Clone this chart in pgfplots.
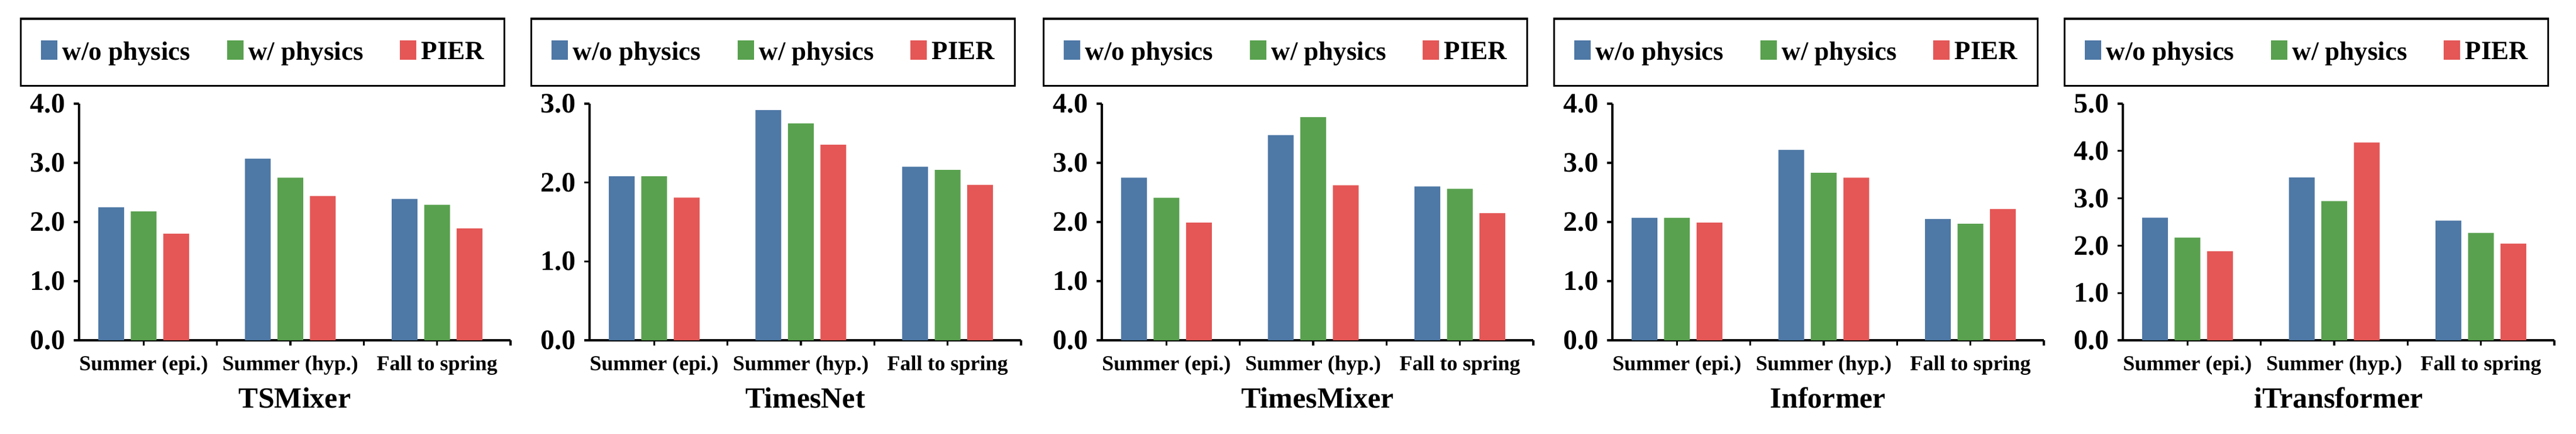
\documentclass[border=0pt]{standalone}
\usepackage{fontspec}
\setmainfont{Liberation Serif}
\usepackage{pgfplots}
\pgfplotsset{compat=1.18}
\definecolor{cBlue}{HTML}{4E78A6}
\definecolor{cGreen}{HTML}{59A14F}
\definecolor{cRed}{HTML}{E45756}
\pgfplotsset{
  sqlegend/.style={legend image code/.code={\fill[##1] (0pt,-3.1pt) rectangle (7pt,5.15pt);}},
  panel/.style={
    scale only axis, width=184.25pt, height=101pt,
    anchor=south west,
    xmin=-0.44, xmax=2.5, ymin=0,
    ybar, bar width=11pt, ybar=2.875pt,
    axis x line=bottom, axis y line=left,
    axis line style={-, line width=1pt, black},
    tick align=outside, major tick length=2.25pt,
    tick style={line width=0.8pt, black},
    xtick={0,1,2},
    xticklabels={Summer (epi.), Summer (hyp.), Fall to spring},
    extra x ticks={0.5,1.5,2.5}, extra x tick labels={},
    ytick distance=1,
    /pgf/number format/assume math mode=true,
    yticklabel style={font=\fontsize{12}{13}\selectfont\bfseries, /pgf/number format/.cd, fixed, fixed zerofill, precision=1},
    xticklabel style={font=\fontsize{9}{10}\selectfont\bfseries, anchor=base, yshift=-10.5pt},
    xlabel style={font=\fontsize{12.5}{14}\selectfont\bfseries, at={(axis description cs:0.5,-0.287)}, anchor=base},
    legend columns=3,
    legend style={at={(axis description cs:0.4254,1.2178)}, anchor=center,
      draw=black, line width=0.85pt, font=\fontsize{11.25}{13}\selectfont\bfseries,
      inner xsep=8.5pt, inner ysep=9.4pt,
      nodes={inner sep=0pt},
      /tikz/every odd column/.append style={column sep=2.25pt},
      /tikz/every even column/.append style={column sep=15.5pt}},
  }
}
\begin{document}
\begin{tikzpicture}
\useasboundingbox (0,0) rectangle (1100pt,185pt);
% TSMixer
\begin{axis}[panel, at={(33.75pt,39.75pt)}, ymax=4, xlabel={TSMixer}]
\addplot[fill=cBlue, draw=none, sqlegend] coordinates {(0,2.25) (1,3.07) (2,2.39)};
\addplot[fill=cGreen, draw=none, sqlegend] coordinates {(0,2.18) (1,2.75) (2,2.29)};
\addplot[fill=cRed, draw=none, sqlegend] coordinates {(0,1.80) (1,2.44) (2,1.89)};
\legend{w/o physics, w/ physics, PIER}
\end{axis}
% TimesNet
\begin{axis}[panel, at={(251.75pt,39.75pt)}, ymax=3, xlabel={TimesNet}]
\addplot[fill=cBlue, draw=none, sqlegend] coordinates {(0,2.08) (1,2.92) (2,2.20)};
\addplot[fill=cGreen, draw=none, sqlegend] coordinates {(0,2.08) (1,2.75) (2,2.16)};
\addplot[fill=cRed, draw=none, sqlegend] coordinates {(0,1.81) (1,2.48) (2,1.97)};
\legend{w/o physics, w/ physics, PIER}
\end{axis}
% TimesMixer
\begin{axis}[panel, at={(470.5pt,39.75pt)}, ymax=4, xlabel={TimesMixer}]
\addplot[fill=cBlue, draw=none, sqlegend] coordinates {(0,2.75) (1,3.47) (2,2.60)};
\addplot[fill=cGreen, draw=none, sqlegend] coordinates {(0,2.41) (1,3.77) (2,2.56)};
\addplot[fill=cRed, draw=none, sqlegend] coordinates {(0,1.99) (1,2.62) (2,2.15)};
\legend{w/o physics, w/ physics, PIER}
\end{axis}
% Informer
\begin{axis}[panel, at={(688.5pt,39.75pt)}, ymax=4, xlabel={Informer}]
\addplot[fill=cBlue, draw=none, sqlegend] coordinates {(0,2.07) (1,3.22) (2,2.05)};
\addplot[fill=cGreen, draw=none, sqlegend] coordinates {(0,2.07) (1,2.83) (2,1.97)};
\addplot[fill=cRed, draw=none, sqlegend] coordinates {(0,1.99) (1,2.75) (2,2.22)};
\legend{w/o physics, w/ physics, PIER}
\end{axis}
% iTransformer
\begin{axis}[panel, at={(906.5pt,39.75pt)}, ymax=5, xlabel={iTransformer}]
\addplot[fill=cBlue, draw=none, sqlegend] coordinates {(0,2.59) (1,3.44) (2,2.53)};
\addplot[fill=cGreen, draw=none, sqlegend] coordinates {(0,2.17) (1,2.94) (2,2.27)};
\addplot[fill=cRed, draw=none, sqlegend] coordinates {(0,1.88) (1,4.18) (2,2.04)};
\legend{w/o physics, w/ physics, PIER}
\end{axis}
\end{tikzpicture}
\end{document}
